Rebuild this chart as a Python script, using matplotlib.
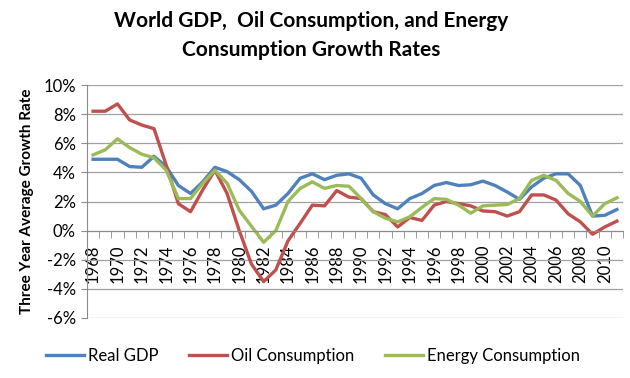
import matplotlib
matplotlib.use("Agg")
import matplotlib.pyplot as plt
from matplotlib.ticker import FuncFormatter, MultipleLocator

# three year average growth rates, % per year
years = list(range(1968, 2012))
real_gdp = [4.9, 4.9, 4.9, 4.4, 4.35, 5.1, 4.4, 3.1, 2.55, 3.35,
            4.35, 4.05, 3.5, 2.7, 1.5, 1.75, 2.55, 3.6, 3.9, 3.5,
            3.8, 3.9, 3.6, 2.45, 1.85, 1.5, 2.2, 2.55, 3.1, 3.3,
            3.1, 3.15, 3.4, 3.1, 2.65, 2.15, 3.0, 3.6, 3.9, 3.9,
            3.1, 1.0, 1.05, 1.45]
oil_cons = [8.2, 8.2, 8.7, 7.6, 7.25, 7.0, 4.5, 1.85, 1.3, 2.8,
            4.15, 2.55, 0.0, -2.3, -3.5, -2.7, -0.7, 0.5, 1.75, 1.7,
            2.75, 2.3, 2.2, 1.3, 1.1, 0.25, 0.9, 0.7, 1.75, 2.0,
            1.85, 1.7, 1.35, 1.3, 1.0, 1.3, 2.45, 2.45, 2.1, 1.15,
            0.6, -0.25, 0.25, 0.65]
energy_cons = [5.2, 5.55, 6.3, 5.7, 5.25, 5.0, 4.15, 2.2, 2.2, 3.25,
               4.15, 3.25, 1.4, 0.3, -0.8, 0.0, 2.0, 2.9, 3.35, 2.9,
               3.1, 3.05, 2.2, 1.3, 0.85, 0.6, 0.95, 1.6, 2.2, 2.15,
               1.75, 1.2, 1.7, 1.75, 1.8, 2.2, 3.45, 3.8, 3.45, 2.55,
               2.0, 1.0, 1.85, 2.25]
labels = ["Real GDP", "Oil Consumption", "Energy Consumption"]
colors = ["#4F81BD", "#C0504D", "#9BBB59"]

plt.rcParams["font.family"] = ["Lato", "DejaVu Sans"]

fig = plt.figure(figsize=(6.3, 3.78), dpi=100)
ax = fig.add_axes([87 / 630, 1 - 318 / 378, 536 / 630, 233 / 378])

for vals, lab, col in zip([real_gdp, oil_cons, energy_cons], labels, colors):
    ax.plot(years, vals, color=col, lw=2.4, label=lab, solid_joinstyle="round")

ax.set_xlim(1967.5, 2011.5)
ax.set_ylim(-6, 10)
ax.yaxis.set_major_locator(MultipleLocator(2))
ax.yaxis.set_major_formatter(FuncFormatter(lambda v, p: "%d%%" % v))
ax.grid(axis="y", color="#A0A0A0", lw=0.9)
ax.set_axisbelow(True)

# category axis crossing at zero
ax.spines["bottom"].set_position(("data", 0))
ax.spines["bottom"].set_color("#8C8C8C")
ax.spines["left"].set_color("#8C8C8C")
ax.spines["top"].set_visible(False)
ax.spines["right"].set_visible(False)

ax.set_xticks(years[::2])
ax.set_xticks([y - 0.5 for y in years] + [2011.5], minor=True)
ax.tick_params(axis="x", which="major", length=0, pad=10, labelrotation=90, labelsize=12)
ax.tick_params(axis="x", which="minor", length=5, color="#8C8C8C")
ax.tick_params(axis="y", length=4, color="#8C8C8C", labelsize=12, pad=4)

ax.set_ylabel("Three Year Average Growth Rate", fontsize=11, fontweight="bold", labelpad=7)

fig.text(0.494, 1 - 21 / 378, "World GDP,  Oil Consumption, and Energy",
         ha="center", va="center", fontsize=15, fontweight="bold")
fig.text(0.494, 1 - 50 / 378, "Consumption Growth Rates",
         ha="center", va="center", fontsize=15, fontweight="bold")

fig.legend(loc="center", bbox_to_anchor=(0.497, 1 - 356 / 378), ncol=3, frameon=False,
           fontsize=12, handlelength=2.3, handletextpad=0.25, columnspacing=1.8)

fig.savefig("out.png", dpi=100)
